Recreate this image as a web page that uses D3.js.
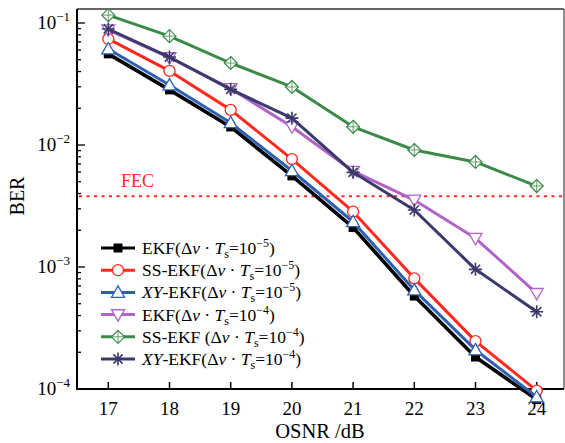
<!DOCTYPE html>
<html>
<head>
<meta charset="utf-8">
<script src="https://cdn.jsdelivr.net/npm/d3@7"></script>
<style>
  body { margin: 0; background: #fff; }
  svg { display: block; font-family: "Liberation Serif", "DejaVu Serif", serif; }
</style>
</head>
<body>
<div id="chart"></div>
<script>
const osnr = [17, 18, 19, 20, 21, 22, 23, 24];

const ekf5   = [0.058, 0.0294, 0.0146, 0.0058, 0.00219, 0.00060, 0.000190, 0.000085];
const ssEkf5 = [0.074, 0.0405, 0.0194, 0.00767, 0.00284, 0.000807, 0.000247, 0.000097];
const xyEkf5 = [0.0612, 0.031, 0.0152, 0.00615, 0.00235, 0.000647, 0.000209, 0.000086];
const ekf4   = [0.088, 0.052, 0.0290, 0.0141, 0.0061, 0.00354, 0.00172, 0.000608];
const ssEkf4 = [0.116, 0.078, 0.047, 0.0299, 0.0141, 0.0091, 0.00726, 0.00461];
const xyEkf4 = [0.0893, 0.0526, 0.0286, 0.0166, 0.00597, 0.00293, 0.000957, 0.00043];

const fecLevel = 0.0038;

const yTicks = [1e-1, 1e-2, 1e-3, 1e-4];
const yTickExps = ["−1", "−2", "−3", "−4"];

const series = [
  { name: "EKF", exp: "−5", values: ekf5, color: "#000000", marker: "square" },
  { name: "SS-EKF", exp: "−5", values: ssEkf5, color: "#ff2a1f", marker: "circle" },
  { name: "XY-EKF", exp: "−5", values: xyEkf5, color: "#2d5fb3", marker: "triangle" },
  { name: "EKF", exp: "−4", values: ekf4, color: "#b064c6", marker: "triangleDown" },
  { name: "SS-EKF ", exp: "−4", values: ssEkf4, color: "#3b8a48", marker: "diamond" },
  { name: "XY-EKF", exp: "−4", values: xyEkf4, color: "#3a3a6c", marker: "star" }
];

const W = 565, H = 443;
const plot = { left: 77, right: 564, top: 9, bottom: 389 };

const svg = d3.select("#chart").append("svg")
  .attr("width", W).attr("height", H);

const x = d3.scaleLinear().domain([17, 24]).range([108.3, 536.7]);
const y = d3.scaleLog().domain([1e-4, 1e-1]).range([389, 23]);

// frame (top/right thin)
svg.append("line").attr("x1", plot.left).attr("x2", plot.right)
  .attr("y1", plot.top).attr("y2", plot.top)
  .attr("stroke", "#333").attr("stroke-width", 1.5);
svg.append("line").attr("x1", plot.right).attr("x2", plot.right)
  .attr("y1", plot.top).attr("y2", plot.bottom)
  .attr("stroke", "#444").attr("stroke-width", 1.2);

// x axis ticks
const xg = svg.append("g");
osnr.forEach(v => {
  xg.append("line").attr("x1", x(v)).attr("x2", x(v))
    .attr("y1", plot.bottom).attr("y2", plot.bottom - 7)
    .attr("stroke", "#000").attr("stroke-width", 1.5);
  xg.append("text").attr("x", x(v)).attr("y", 415)
    .attr("text-anchor", "middle").attr("font-size", 19).text(v);
});

// y axis ticks (major + minor)
const yg = svg.append("g");
for (let e = -4; e <= -1; e++) {
  for (let m = 1; m <= 9; m++) {
    const v = m * Math.pow(10, e);
    const yy = y(v);
    if (yy < plot.top || yy > plot.bottom) continue;
    yg.append("line").attr("x1", plot.left).attr("x2", plot.left + (m === 1 ? 8 : 4))
      .attr("y1", yy).attr("y2", yy)
      .attr("stroke", "#000").attr("stroke-width", 1.3);
  }
}
yTicks.forEach((v, i) => {
  const t = yg.append("text").attr("x", 70).attr("y", y(v) + 6)
    .attr("text-anchor", "end").attr("font-size", 19);
  t.append("tspan").text("10");
  t.append("tspan").attr("dy", -8).attr("font-size", 13).text(yTickExps[i]);
});

// left & bottom axis lines
svg.append("line").attr("x1", plot.left).attr("x2", plot.left)
  .attr("y1", plot.top).attr("y2", plot.bottom + 1)
  .attr("stroke", "#000").attr("stroke-width", 2);
svg.append("line").attr("x1", plot.left).attr("x2", plot.right)
  .attr("y1", plot.bottom).attr("y2", plot.bottom)
  .attr("stroke", "#000").attr("stroke-width", 2);

// axis titles
svg.append("text").attr("transform", "translate(24,196) rotate(-90)")
  .attr("text-anchor", "middle").attr("font-size", 20).text("BER");
svg.append("text").attr("x", 320).attr("y", 438)
  .attr("text-anchor", "middle").attr("font-size", 20.5).text("OSNR /dB");

// FEC line
svg.append("line").attr("x1", plot.left + 2).attr("x2", plot.right)
  .attr("y1", y(fecLevel)).attr("y2", y(fecLevel))
  .attr("stroke", "#ff2a1f").attr("stroke-width", 2.2)
  .attr("stroke-dasharray", "3,4.5");
svg.append("text").attr("x", 121).attr("y", y(fecLevel) - 9)
  .attr("font-size", 18).attr("fill", "#ff2a1f").text("FEC");

// markers
function drawMarker(g, type, cx, cy, color) {
  if (type === "square") {
    g.append("rect").attr("x", cx - 4.5).attr("y", cy - 4.5)
      .attr("width", 9).attr("height", 9).attr("fill", color);
  } else if (type === "circle") {
    g.append("circle").attr("cx", cx).attr("cy", cy).attr("r", 5.5)
      .attr("fill", "#fff").attr("stroke", color).attr("stroke-width", 1.3);
  } else if (type === "triangle") {
    const s = 6.5;
    g.append("path").attr("d", `M${cx},${cy - s} L${cx + s},${cy + s * 0.75} L${cx - s},${cy + s * 0.75}Z`)
      .attr("fill", "#fff").attr("stroke", color).attr("stroke-width", 1.3);
  } else if (type === "triangleDown") {
    const s = 6.5;
    g.append("path").attr("d", `M${cx},${cy + s} L${cx + s},${cy - s * 0.75} L${cx - s},${cy - s * 0.75}Z`)
      .attr("fill", "#fff").attr("stroke", color).attr("stroke-width", 1.3);
  } else if (type === "diamond") {
    const s = 6.5;
    g.append("path").attr("d", `M${cx},${cy - s} L${cx + s},${cy} L${cx},${cy + s} L${cx - s},${cy}Z`)
      .attr("fill", "#fff").attr("stroke", color).attr("stroke-width", 1.2);
    g.append("path").attr("d", `M${cx},${cy - s} V${cy + s} M${cx - s},${cy} H${cx + s}`)
      .attr("stroke", color).attr("stroke-width", 0.8);
  } else if (type === "star") {
    const s = 6.5;
    let d = "";
    for (let k = 0; k < 4; k++) {
      const a = k * Math.PI / 4;
      d += `M${cx - s * Math.cos(a)},${cy - s * Math.sin(a)} L${cx + s * Math.cos(a)},${cy + s * Math.sin(a)} `;
    }
    g.append("path").attr("d", d).attr("stroke", color).attr("stroke-width", 1.6);
  }
}

const line = d3.line().x((d, i) => x(osnr[i])).y(d => y(d));

series.forEach((s, si) => {
  const g = svg.append("g");
  g.append("path").datum(s.values).attr("d", line)
    .attr("fill", "none").attr("stroke", s.color)
    .attr("stroke-width", si === 0 ? 3.6 : 3).attr("stroke-linejoin", "round")
    .attr("transform", si === 0 ? "translate(0,2)" : null);
  s.values.forEach((v, i) => drawMarker(g, s.marker, x(osnr[i]), y(v) + (si === 0 ? 2 : 0), s.color));
});

// legend
const legend = svg.append("g");
series.forEach((s, i) => {
  const ly = 248 + i * 22.2;
  legend.append("line").attr("x1", 101).attr("x2", 135)
    .attr("y1", ly).attr("y2", ly).attr("stroke", s.color).attr("stroke-width", 3);
  drawMarker(legend, s.marker, 118, ly, s.color);
  const t = legend.append("text").attr("x", 142).attr("y", ly + 6).attr("font-size", 17.5);
  if (s.name.startsWith("XY")) {
    t.append("tspan").attr("font-style", "italic").text("XY");
    t.append("tspan").text(s.name.slice(2) + "(Δ");
  } else {
    t.append("tspan").text(s.name + "(Δ");
  }
  t.append("tspan").attr("font-style", "italic").text("ν");
  t.append("tspan").text(" · ");
  t.append("tspan").attr("font-style", "italic").text("T");
  t.append("tspan").attr("dy", 4).attr("font-size", 12).text("s");
  t.append("tspan").attr("dy", -4).text("=10");
  t.append("tspan").attr("dy", -7).attr("font-size", 12).text(s.exp);
  t.append("tspan").attr("dy", 7).text(")");
});
</script>
</body>
</html>
